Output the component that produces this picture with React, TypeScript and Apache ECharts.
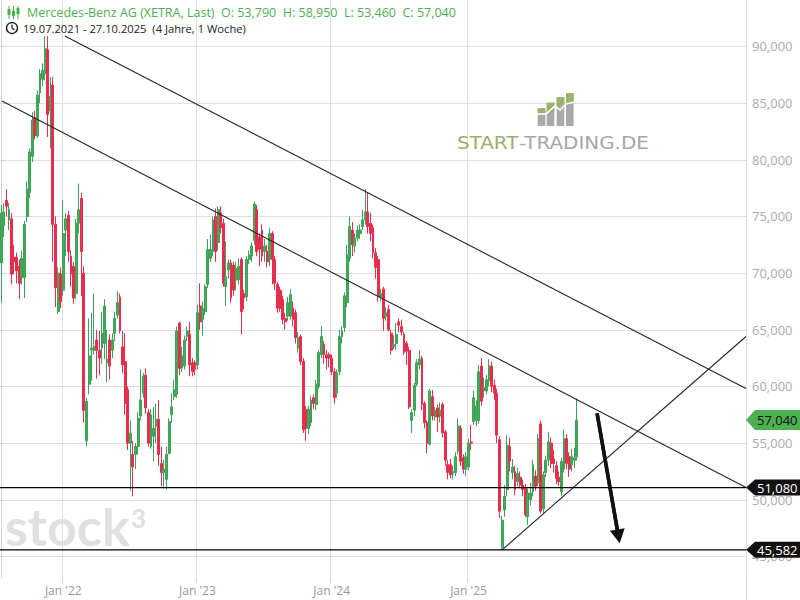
import React, { useEffect, useRef } from 'react';
import * as echarts from 'echarts';

// ---------- data (weekly candles, [open, close, low, high]) ----------
const firstWeek = '2021-07-19';
const emptyWeeksRight = 65;

const ohlc2021 = [
  [70900, 75300, 67400, 76000], [74200, 75400, 73200, 76200], [76400, 75900, 75000, 77400], [74700, 75600, 73800, 76200],
  [74800, 69900, 69000, 75300], [71400, 71000, 69900, 72500], [71400, 70200, 69100, 71800], [70600, 69100, 67700, 71200],
  [69600, 71300, 69000, 72000], [69600, 74300, 67800, 74600], [75000, 77400, 74500, 78100], [77100, 80700, 76600, 81000],
  [80300, 83500, 79800, 84200], [83700, 82100, 81800, 84300], [82100, 85700, 81900, 86100], [85900, 87600, 85000, 88000],
  [87100, 87900, 86500, 88500], [87600, 89800, 87000, 90900], [89700, 84000, 82000, 90900], [84300, 85600, 81000, 87300],
  [86600, 74300, 71000, 87300], [74300, 68700, 67000, 75000], [66600, 70000, 66400, 70500], [69900, 67500, 66900, 70500],
];

const ohlc2022 = [
  [68500, 73500, 68000, 76400], [73800, 74800, 71500, 75300], [75100, 71900, 71000, 75500], [71500, 69900, 68800, 72000],
  [70600, 67800, 67300, 71000], [68200, 74400, 67700, 74800], [74400, 75600, 73500, 77900], [76600, 71900, 68000, 77100],
  [70000, 57900, 56800, 70600], [55200, 58700, 54700, 59000], [60200, 62700, 59300, 66000], [63200, 63400, 60500, 66500],
  [63200, 63500, 62800, 68200], [64100, 63200, 60700, 65000], [63200, 62500, 61000, 64900], [63400, 64700, 62000, 66600],
  [63800, 67100, 62400, 67700], [62100, 62400, 60400, 65000], [64100, 61800, 60600, 64600], [63200, 64100, 62500, 64700],
  [64700, 66000, 64000, 66600], [66300, 67400, 66000, 68400], [67900, 64900, 64700, 68200], [63500, 61900, 61200, 64900],
  [62200, 58500, 57500, 64700], [59700, 55000, 54400, 60000], [55000, 55900, 50800, 57000], [54000, 52900, 50300, 55200],
  [54000, 54700, 52700, 55000], [54700, 57200, 54000, 57700], [57400, 58800, 57000, 61500], [59400, 60900, 59000, 61200],
  [61000, 58100, 57600, 61600], [57700, 55000, 54700, 58000], [54700, 57500, 54500, 58000], [55600, 56300, 53400, 58200],
  [56500, 57100, 55000, 58500], [57100, 54000, 53000, 58800], [53200, 52400, 51200, 54700], [52400, 52700, 51000, 53500],
  [51800, 54000, 50900, 54700], [54100, 56900, 54000, 57200], [57500, 58200, 56800, 59400], [59100, 59700, 58800, 60600],
  [59300, 64900, 59000, 65300], [65600, 61600, 61000, 65700], [61600, 62700, 61300, 63500], [61800, 64100, 61500, 64500],
  [64400, 64900, 64000, 65300], [64600, 61900, 60900, 65700], [62100, 61300, 60900, 62500], [62100, 61500, 61000, 62300],
];

const ohlc2023 = [
  [61900, 66500, 61500, 67200], [67100, 65700, 65000, 69100], [65900, 66900, 64500, 67500], [66600, 68800, 66300, 69000],
  [69000, 72100, 68700, 73000], [71300, 72100, 71000, 73400], [71900, 74700, 71500, 75000], [75000, 71900, 71000, 75700],
  [72700, 75600, 72000, 75900], [75300, 74000, 73500, 75900], [74400, 69100, 68800, 74800], [68800, 69700, 67100, 72800],
  [70300, 70900, 69500, 71200], [70900, 67800, 67400, 71200], [70700, 68500, 68000, 71000], [69400, 70400, 68500, 71000],
  [69400, 70600, 69000, 71300], [71200, 66600, 64600, 71400], [68200, 67800, 66800, 68500], [67900, 71200, 67500, 71500],
  [71200, 71600, 70800, 72000], [71500, 72400, 71000, 72700], [72900, 76100, 72500, 76300], [75600, 71900, 71500, 76000],
  [73200, 72100, 70600, 73500], [73800, 71500, 71000, 74300], [71900, 72400, 71000, 73000], [71900, 71000, 70500, 72500],
  [71200, 73500, 70600, 74000], [73500, 71200, 69000, 73700], [71200, 69100, 68500, 71500], [69000, 66900, 66500, 69200],
  [68500, 66900, 66600, 68800], [67700, 65900, 65500, 68000], [66000, 65700, 65000, 66500], [66200, 67400, 65800, 67900],
  [66200, 68100, 65900, 68600], [66900, 65900, 65300, 67500], [66500, 64300, 63800, 66800], [63400, 64300, 63000, 64800],
  [64400, 62200, 61900, 64600], [62200, 56200, 55900, 62500], [58000, 56300, 55200, 58300], [56300, 58000, 55800, 58300],
  [56800, 58800, 56500, 59200], [59000, 58500, 58000, 59300], [58400, 60200, 57900, 60600], [60000, 63000, 59800, 63200],
  [62800, 64400, 62500, 65300], [63700, 62800, 62000, 64000], [62800, 62500, 61500, 63200], [62800, 62500, 61700, 63000],
];

const ohlc2024 = [
  [62500, 61300, 61000, 62800], [61300, 59000, 58500, 61600], [59400, 61200, 59000, 61500], [61300, 64400, 61000, 65000],
  [64400, 64900, 63800, 65300], [65200, 68000, 64800, 68300], [67400, 71600, 67000, 72500], [71300, 74100, 71000, 75000],
  [73800, 72500, 71500, 74500], [72400, 73100, 71800, 73500], [73100, 73800, 72800, 74200], [73500, 73800, 73000, 74300],
  [74100, 74700, 73800, 75600], [74700, 75400, 74300, 77400], [75400, 74100, 73500, 77100], [74400, 73500, 72800, 75300],
  [74000, 71800, 71300, 74300], [71800, 70500, 69500, 72200], [71200, 67900, 67500, 71500], [67900, 68200, 67500, 68600],
  [68600, 66000, 64900, 68800], [66200, 66500, 65800, 67000], [66800, 65000, 64900, 67200], [64700, 63200, 62800, 65000],
  [63500, 63700, 63300, 64500], [63800, 64600, 63200, 65600], [65700, 65400, 64800, 66000], [65300, 64800, 64500, 65900],
  [64600, 63000, 62800, 64800], [63800, 63100, 61900, 64000], [63200, 58200, 58000, 63500], [57000, 57700, 55900, 58000],
  [57900, 60100, 57400, 60300], [60200, 62100, 60000, 62400], [61900, 62400, 61500, 63200], [62500, 58400, 57900, 62700],
  [58500, 56800, 56300, 58700], [56800, 55000, 54100, 57000], [54900, 59600, 54800, 59800], [59100, 57400, 57000, 59700],
  [57300, 57900, 57000, 58200], [58100, 57300, 56000, 58400], [57400, 57900, 56800, 58600], [58400, 55900, 55500, 58600],
  [56000, 53500, 53000, 56200], [53100, 52400, 51800, 53500], [53100, 52200, 51900, 53600], [52300, 52500, 51800, 53000],
  [52400, 53800, 52100, 54200], [54300, 56500, 54000, 57200], [56300, 53400, 53000, 56600], [53700, 52700, 52300, 54000],
  [52700, 53800, 52100, 54200],
];

const ohlc2025 = [
  [52900, 55000, 52600, 55400], [55100, 55000, 54400, 56600], [56900, 59000, 56600, 59600], [57000, 58300, 56500, 58800],
  [57000, 61300, 56700, 61900], [61800, 58700, 58300, 62500], [59600, 59900, 59000, 60800], [59600, 60600, 59300, 61000],
  [60500, 61800, 60000, 62400], [61800, 60000, 59500, 62200], [60100, 59400, 58800, 60600], [59400, 55700, 55000, 59800],
  [55300, 49000, 48400, 55600], [45800, 48200, 45582, 48600], [49100, 50300, 48500, 51300], [50900, 54800, 50300, 55700],
  [54700, 53400, 52500, 55500], [52400, 52900, 51800, 53600], [52500, 50900, 50400, 53000], [51600, 52300, 51200, 52800],
  [52000, 51300, 51000, 52500], [51300, 50900, 50300, 51800], [51000, 48700, 48500, 51400], [48500, 50600, 47800, 51000],
  [50000, 50600, 49500, 51500], [50700, 53100, 50300, 53500], [52100, 51200, 50800, 52600], [51500, 55400, 51200, 55800],
  [56700, 49000, 48800, 57000], [49200, 52200, 48800, 52500], [52400, 53500, 52000, 53900], [53500, 55100, 53000, 56000],
  [55000, 53200, 52800, 55500], [53600, 53200, 52400, 54400], [53000, 51900, 51400, 53400], [52000, 51600, 51200, 52500],
  [50700, 53400, 50300, 53700], [52700, 55400, 52400, 56200], [55400, 53200, 52700, 55800], [53800, 52700, 52000, 54200],
  [53100, 53800, 52500, 54500], [53500, 53700, 52800, 54600], [53790, 57040, 53460, 58950],
];

// x tick labels and their weeks
const yearTickLabels = ["Jan '22", "Jan '23", "Jan '24", "Jan '25"];
const yearTickWeeks = ['2022-01-03', '2023-01-02', '2024-01-01', '2025-01-06'];

// horizontal levels
const supportLevels = [51080, 45582];

// drawn lines: [weekIndex, value] pairs
const upperChannel = [[24.6, 90924], [288.5, 59830]];
const lowerChannel = [[0.27, 85188], [288.5, 51085]];
const risingSupport = [[194, 45582], [288.5, 64409]];
const arrowLine = [[230.8, 57633], [239.1, 46770]];

// ---------- derived ----------
const candles = [...ohlc2021, ...ohlc2022, ...ohlc2023, ...ohlc2024, ...ohlc2025];
const totalSlots = candles.length + emptyWeeksRight;
const weekDates: string[] = [];
{
  const [y, m, d] = firstWeek.split('-').map(Number);
  const t0 = Date.UTC(y, m - 1, d);
  for (let i = 0; i < totalSlots; i++) {
    weekDates.push(new Date(t0 + i * 7 * 86400000).toISOString().slice(0, 10));
  }
}
const tickIndexSet = new Set(yearTickWeeks.map((w) => weekDates.indexOf(w)));
const labelByDate: Record<string, string> = {};
yearTickWeeks.forEach((w, k) => (labelByDate[w] = yearTickLabels[k]));

const fmt = (v: number) => v.toLocaleString('en-US');
const toDE = (s: string) => s.split('-').reverse().join('.');
const last = candles[candles.length - 1];

const UP = '#43b049';
const DOWN = '#f22848';
const GRID = '#dedee6';
const FONT = '"Open Sans", "Noto Sans", sans-serif';

export default function App() {
  const ref = useRef<HTMLDivElement>(null);
  useEffect(() => {
    const chart = echarts.init(ref.current!, null, { renderer: 'svg' });
    const lineSeries = (data: number[][], color: string, width: number) => ({
      type: 'line',
      xAxisIndex: 1,
      yAxisIndex: 0,
      data,
      symbol: 'none',
      silent: true,
      z: 5,
      lineStyle: { color, width },
    });
    chart.setOption({
      animation: false,
      grid: { left: -2, right: 54, top: 0, bottom: 22 },
      xAxis: [
        {
          type: 'category',
          data: weekDates,
          boundaryGap: true,
          axisLine: { show: false },
          axisTick: {
            show: true,
            interval: (i: number) => tickIndexSet.has(i),
            length: 5,
            lineStyle: { color: '#cfcfd6' },
          },
          axisLabel: {
            interval: (i: number) => tickIndexSet.has(i),
            formatter: (v: string) => labelByDate[v] ?? '',
            color: '#999999',
            fontSize: 12,
            margin: 6,
            fontFamily: FONT,
          },
          splitLine: {
            show: true,
            interval: (i: number) => tickIndexSet.has(i),
            lineStyle: { color: GRID, width: 1 },
          },
        },
        { type: 'value', min: -0.5, max: totalSlots - 0.5, show: false },
      ],
      yAxis: {
        type: 'value',
        position: 'right',
        min: 43100,
        max: 94100,
        minInterval: 5000,
        maxInterval: 5000,
        axisLine: { show: true, lineStyle: { color: '#d4d4dc' } },
        axisTick: { show: true, length: 4, lineStyle: { color: '#cfcfd6' } },
        axisLabel: {
          color: '#ababab',
          fontSize: 13,
          margin: 6,
          fontFamily: FONT,
          formatter: (v: number) => fmt(v),
          showMinLabel: false,
          showMaxLabel: false,
        },
        splitLine: { show: true, showMinLine: false, showMaxLine: false, lineStyle: { color: GRID, width: 1 } },
      },
      series: [
        {
          type: 'candlestick',
          data: candles,
          barWidth: 2.4,
          z: 2,
          itemStyle: { color: UP, color0: DOWN, borderColor: '#3f9f5c', borderColor0: '#e2304e', borderWidth: 1 },
        },
        lineSeries(upperChannel, '#262626', 1.1),
        lineSeries(lowerChannel, '#262626', 1.1),
        lineSeries(risingSupport, '#262626', 1.1),
        lineSeries([[-0.5, supportLevels[0]], [totalSlots - 0.5, supportLevels[0]]], '#000000', 1.2),
        lineSeries([[-0.5, supportLevels[1]], [totalSlots - 0.5, supportLevels[1]]], '#000000', 1.2),
        {
          ...lineSeries(arrowLine, '#111111', 3.5),
          markLine: {
            silent: true,
            animation: false,
            symbol: ['none', 'triangle'],
            symbolSize: [15, 14],
            label: { show: false },
            lineStyle: { color: '#111111', width: 3.5, type: 'solid' },
            data: [[{ coord: arrowLine[0] }, { coord: arrowLine[1] }]],
          },
        },
      ],
    });

    const yPx = (v: number) => chart.convertToPixel({ yAxisIndex: 0 }, v) as number;
    const tag = (value: number, bg: string, fg: string, h: number) => {
      const y = yPx(value);
      return [
        {
          type: 'polygon',
          z: 20,
          shape: { points: [[746, y], [755, y - h / 2], [800, y - h / 2], [800, y + h / 2], [755, y + h / 2]] },
          style: { fill: bg },
        },
        {
          type: 'text',
          z: 21,
          x: 757,
          y,
          style: { text: fmt(value), fill: fg, font: `13px ${FONT}`, verticalAlign: 'middle', align: 'left' },
        },
      ];
    };

    const header = [
      // candle icon
      { type: 'line', shape: { x1: 9, y1: 6, x2: 9, y2: 19 }, style: { stroke: UP, lineWidth: 1 } },
      { type: 'rect', shape: { x: 7.5, y: 9, width: 3, height: 6 }, style: { fill: UP } },
      { type: 'line', shape: { x1: 13.5, y1: 6, x2: 13.5, y2: 19 }, style: { stroke: UP, lineWidth: 1 } },
      { type: 'rect', shape: { x: 12, y: 11, width: 3, height: 5 }, style: { fill: UP } },
      { type: 'line', shape: { x1: 18, y1: 6, x2: 18, y2: 19 }, style: { stroke: UP, lineWidth: 1 } },
      { type: 'rect', shape: { x: 16.5, y: 8, width: 3, height: 6 }, style: { fill: UP } },
      {
        type: 'text',
        x: 27,
        y: 12.5,
        style: {
          text: `Mercedes-Benz AG (XETRA, Last)  O: ${fmt(last[0])}  H: ${fmt(last[3])}  L: ${fmt(last[2])}  C: ${fmt(last[1])}`,
          fill: '#4caf50',
          font: `12.5px ${FONT}`,
          verticalAlign: 'middle',
        },
      },
      // clock icon
      { type: 'circle', shape: { cx: 12, cy: 28, r: 5.5 }, style: { fill: 'none', stroke: '#222', lineWidth: 1.4 } },
      { type: 'polyline', shape: { points: [[12, 24.5], [12, 28], [14.5, 30]] }, style: { stroke: '#222', lineWidth: 1.3, fill: 'none' } },
      {
        type: 'text',
        x: 23,
        y: 28.5,
        style: {
          text: `${toDE(weekDates[0])} - ${toDE(weekDates[candles.length - 1])}  (4 Jahre, 1 Woche)`,
          fill: '#222222',
          font: `11.2px ${FONT}`,
          verticalAlign: 'middle',
        },
      },
    ];

    const logo = [
      { type: 'rect', shape: { x: 537.7, y: 108.3, width: 7.6, height: 17.7 }, style: { fill: '#a9a9a9' } },
      { type: 'rect', shape: { x: 546.7, y: 102.7, width: 7.6, height: 23.3 }, style: { fill: '#a9a9a9' } },
      { type: 'rect', shape: { x: 556.7, y: 97.3, width: 7.6, height: 28.7 }, style: { fill: '#a9a9a9' } },
      { type: 'rect', shape: { x: 566, y: 93.3, width: 7.6, height: 32.7 }, style: { fill: '#a9a9a9' } },
      { type: 'rect', shape: { x: 537.7, y: 108.3, width: 7.6, height: 5 }, style: { fill: '#9db36a' } },
      { type: 'rect', shape: { x: 546.7, y: 102.7, width: 7.6, height: 10 }, style: { fill: '#9db36a' } },
      { type: 'rect', shape: { x: 556.7, y: 97.3, width: 7.6, height: 8.5 }, style: { fill: '#9db36a' } },
      { type: 'rect', shape: { x: 566, y: 93.3, width: 7.6, height: 10 }, style: { fill: '#9db36a' } },
      {
        type: 'polyline',
        shape: { points: [[536, 114], [546, 114], [555, 106], [560, 110], [566, 104], [575, 102]] },
        style: { stroke: '#ffffff', lineWidth: 1.6, fill: 'none' },
      },
      {
        type: 'text',
        x: 457,
        y: 152,
        scaleX: 1.17,
        style: { text: 'START', fill: '#9aae6a', font: '17px "DejaVu Sans", sans-serif', verticalAlign: 'bottom' },
      },
      {
        type: 'text',
        x: 519,
        y: 152,
        scaleX: 1.17,
        style: { text: '-TRADING.DE', fill: '#a6a6a6', font: '17px "DejaVu Sans", sans-serif', verticalAlign: 'bottom' },
      },
      {
        type: 'text',
        x: 5,
        y: 500,
        z: 0,
        style: { text: 'stock', fill: '#e0e0e0', font: 'bold 52px Lato, sans-serif', verticalAlign: 'top' },
      },
      {
        type: 'text',
        x: 131,
        y: 505,
        z: 0,
        style: { text: '3', fill: '#e0e0e0', font: 'bold 26px Lato, sans-serif', verticalAlign: 'top' },
      },
      { type: 'line', shape: { x1: 746.5, y1: 578, x2: 746.5, y2: 600 }, style: { stroke: '#d4d4dc', lineWidth: 1 } },
    ];

    chart.setOption({
      graphic: [
        ...logo,
        ...header,
        ...tag(last[1], '#4caf50', '#111111', 20),
        ...tag(supportLevels[0], '#111111', '#ffffff', 16),
        ...tag(supportLevels[1], '#111111', '#ffffff', 16),
      ],
    });
    return () => chart.dispose();
  }, []);
  return <div ref={ref} style={{ position: 'absolute', left: 0, top: 0, width: 800, height: 600 }} />;
}
